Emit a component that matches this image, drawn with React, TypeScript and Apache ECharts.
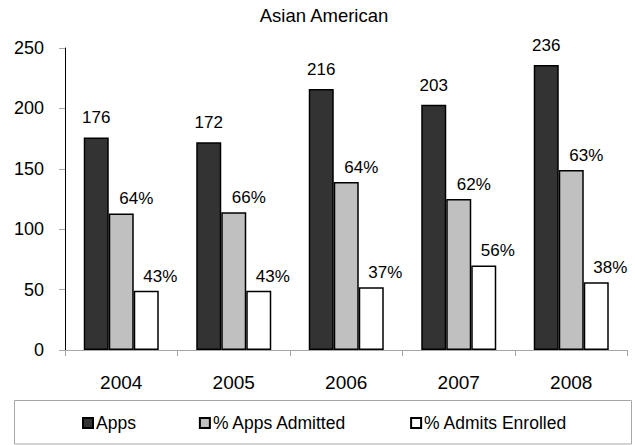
import React, { useEffect, useRef } from "react";
import * as echarts from "echarts";

const categories = ["2004", "2005", "2006", "2007", "2008"];
const apps = [176, 172, 216, 203, 236];
const admitted = [113, 114, 139, 125, 149];
const enrolled = [49, 49, 52, 70, 56];
const admittedPct = ["64%", "66%", "64%", "62%", "63%"];
const enrolledPct = ["43%", "43%", "37%", "56%", "38%"];
const yTicks = [0, 50, 100, 150, 200, 250];

const FONT = "'Liberation Sans', Arial, Helvetica, sans-serif";

export default function App() {
  const ref = useRef<HTMLDivElement>(null);
  useEffect(() => {
    if (!ref.current) return;
    const chart = echarts.init(ref.current, null, { renderer: "svg" });
    const border = { borderColor: "#000", borderWidth: 1.5 };
    chart.setOption({
      animation: false,
      textStyle: { fontFamily: FONT, color: "#000" },
      title: {
        text: "Asian American",
        left: 324,
        textAlign: "center",
        top: 6,
        padding: 0,
        textStyle: { fontFamily: FONT, fontSize: 18.5, fontWeight: "normal", color: "#000" },
      },
      grid: { left: 65, right: 7.5, top: 48, bottom: 95, containLabel: false },
      xAxis: {
        type: "category",
        data: categories,
        boundaryGap: true,
        axisLine: { show: true, lineStyle: { color: "#a6a6a6", width: 1 } },
        axisTick: { show: true, length: 6, alignWithLabel: false, lineStyle: { color: "#a6a6a6" } },
        axisLabel: { margin: 23, fontSize: 19, fontFamily: FONT, color: "#000" },
        splitLine: { show: false },
      },
      yAxis: {
        type: "value",
        min: yTicks[0],
        max: yTicks[yTicks.length - 1],
        interval: 50,
        axisLine: { show: true, lineStyle: { color: "#000", width: 1 } },
        axisTick: { show: true, length: 6, lineStyle: { color: "#a6a6a6" } },
        axisLabel: { margin: 21, fontSize: 18, fontFamily: FONT, color: "#000" },
        splitLine: { show: false },
      },
      legend: {
        left: 82,
        top: 414,
        padding: 0,
        itemWidth: 10,
        itemHeight: 10,
        itemGap: 63,
        icon: "rect",
        textStyle: { fontFamily: FONT, fontSize: 17.5, color: "#000", padding: [0, 0, 0, -2] },
        data: ["Apps", "% Apps Admitted", "% Admits Enrolled"],
      },
      graphic: [
        {
          type: "rect",
          shape: { x: 14.5, y: 400.5, width: 617, height: 43.5 },
          style: { fill: "none", stroke: "#a6a6a6", lineWidth: 1 },
          silent: true,
        },
      ],
      series: [
        {
          name: "Apps",
          type: "bar",
          data: apps,
          barWidth: 25,
          barGap: "0%",
          itemStyle: { color: "#333333", ...border },
          label: {
            show: true,
            position: "top",
            distance: 11,
            fontSize: 17,
            fontFamily: FONT,
            color: "#000",
          },
        },
        {
          name: "% Apps Admitted",
          type: "bar",
          data: admitted,
          barWidth: 25,
          barGap: "0%",
          itemStyle: { color: "#c0c0c0", ...border },
          label: {
            show: true,
            position: "top",
            distance: 6,
            offset: [15, 0],
            fontSize: 17,
            fontFamily: FONT,
            color: "#000",
            formatter: (p: any) => admittedPct[p.dataIndex],
          },
        },
        {
          name: "% Admits Enrolled",
          type: "bar",
          data: enrolled,
          barWidth: 25,
          barGap: "0%",
          itemStyle: { color: "#ffffff", ...border },
          label: {
            show: true,
            position: "top",
            distance: 6,
            offset: [14, 0],
            fontSize: 17,
            fontFamily: FONT,
            color: "#000",
            formatter: (p: any) => enrolledPct[p.dataIndex],
          },
        },
      ],
    });
    return () => chart.dispose();
  }, []);
  return (
    <div
      ref={ref}
      style={{ position: "fixed", left: 0, top: 0, width: 635, height: 445, background: "#fff" }}
    />
  );
}
